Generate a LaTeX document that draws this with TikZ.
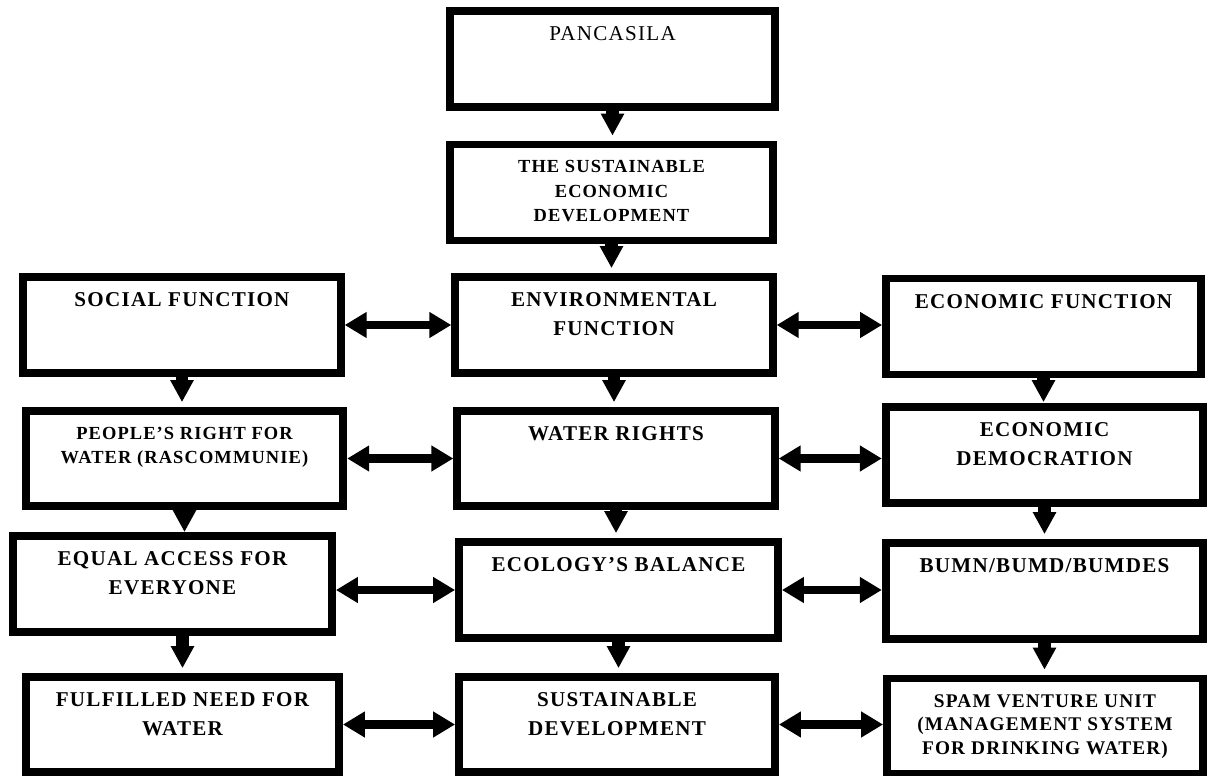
\documentclass[tikz,border=0pt]{standalone}
\usepackage{fontspec}
\setmainfont{Liberation Serif}[LetterSpace=6]
\usetikzlibrary{positioning,arrows.meta}

\begin{document}
\begin{tikzpicture}[x=0.02cm, y=-0.02cm,
    box/.style={draw, line width=4.5pt, inner sep=0pt, minimum width=6.35cm, minimum height=1.92cm},
    txt/.style={align=center, inner sep=0pt, font=\fontsize{12}{16.4}\selectfont\bfseries},
    small/.style={font=\fontsize{10.5}{14}\selectfont\bfseries},
    down/.style={line width=7pt, -{Triangle[length=12.5pt, width=12.5pt]}, shorten >=2.8pt},
    both/.style={line width=5pt, {Triangle[length=12.5pt, width=14pt]}-{Triangle[length=12.5pt, width=14pt]}}]
    \useasboundingbox (0,0) rectangle (1209,776);

    % boxes
    \node[box, minimum width=6.5cm] (pan) at (612.5,59) {};
    \node[box, minimum width=6.46cm] (sed) at (611.5,192.5) {};
    \node[box] (soc) at (182,325) {};
    \node[box] (env) at (614,325) {};
    \node[box, minimum width=6.3cm] (eco) at (1043.5,326.5) {};
    \node[box, minimum height=1.9cm] (ppl) at (184.5,458.5) {};
    \node[box, minimum height=1.9cm] (wat) at (616,458.5) {};
    \node[box] (dem) at (1044.5,455) {};
    \node[box, minimum width=6.38cm] (eqa) at (172.5,584) {};
    \node[box, minimum width=6.38cm] (ecl) at (618.5,590) {};
    \node[box] (bum) at (1044.5,591) {};
    \node[box, minimum width=6.26cm, minimum height=1.9cm] (ful) at (182.5,724.5) {};
    \node[box, minimum width=6.32cm, minimum height=1.9cm] (sdv) at (617,724.5) {};
    \node[box, minimum width=6.32cm, minimum height=1.9cm] (spm) at (1045,726) {};

    % texts
    \node[txt, font=\fontsize{12}{16}\selectfont, below=11pt of pan.north] (panT) {PANCASILA};
    \node[txt, small, below=11pt of sed.north] (sedT) {THE SUSTAINABLE\\ECONOMIC\\DEVELOPMENT};
    \node[txt, below=11pt of soc.north] (socT) {SOCIAL FUNCTION};
    \node[txt, below=11pt of env.north] (envT) {ENVIRONMENTAL\\FUNCTION};
    \node[txt, below=11pt of eco.north] (ecoT) {ECONOMIC FUNCTION};
    \node[txt, small, below=11pt of ppl.north] (pplT) {PEOPLE'S RIGHT FOR\\WATER (RASCOMMUNIE)};
    \node[txt, below=11pt of wat.north] (watT) {WATER RIGHTS};
    \node[txt, below=11pt of dem.north] (demT) {ECONOMIC\\DEMOCRATION};
    \node[txt, below=11pt of eqa.north] (eqaT) {EQUAL ACCESS FOR\\EVERYONE};
    \node[txt, below=11pt of ecl.north] (eclT) {ECOLOGY'S BALANCE};
    \node[txt, below=11pt of bum.north] (bumT) {BUMN/BUMD/BUMDES};
    \node[txt, below=11pt of ful.north] (fulT) {FULFILLED NEED FOR\\WATER};
    \node[txt, below=11pt of sdv.north] (sdvT) {SUSTAINABLE\\DEVELOPMENT};
    \node[txt, font=\fontsize{11}{13.6}\selectfont\bfseries, below=11pt of spm.north] (spmT) {SPAM VENTURE UNIT\\(MANAGEMENT SYSTEM\\FOR DRINKING WATER)};

    % downward arrows
    \draw[down] (pan.south) -- (pan.south |- sed.north);
    \draw[down] (sed.south) -- (sed.south |- env.north);
    \draw[down] (soc.south) -- (soc.south |- ppl.north);
    \draw[down] (env.south) -- (env.south |- wat.north);
    \draw[down, shorten >=0.5pt] (eco.south) -- (eco.south |- dem.north);
    \draw[down, shorten >=0pt] (ppl.south) -- (ppl.south |- eqa.north);
    \draw[down] (wat.south) -- (wat.south |- ecl.north);
    \draw[down] (dem.south) -- (dem.south |- bum.north);
    \draw[down] (eqa.south -| ful.north) -- (ful.north);
    \draw[down] (ecl.south) -- (ecl.south |- sdv.north);
    \draw[down] (bum.south) -- (bum.south |- spm.north);

    % two-way arrows
    \draw[both] (env.west) -- (env.west -| soc.east);
    \draw[both] (env.east) -- (env.east -| eco.west);
    \draw[both] (wat.west) -- (wat.west -| ppl.east);
    \draw[both] (wat.east) -- (wat.east -| dem.west);
    \draw[both] (ecl.west) -- (ecl.west -| eqa.east);
    \draw[both] (ecl.east) -- (ecl.east -| bum.west);
    \draw[both] (sdv.west) -- (sdv.west -| ful.east);
    \draw[both] (sdv.east) -- (sdv.east -| spm.west);
\end{tikzpicture}
\end{document}
